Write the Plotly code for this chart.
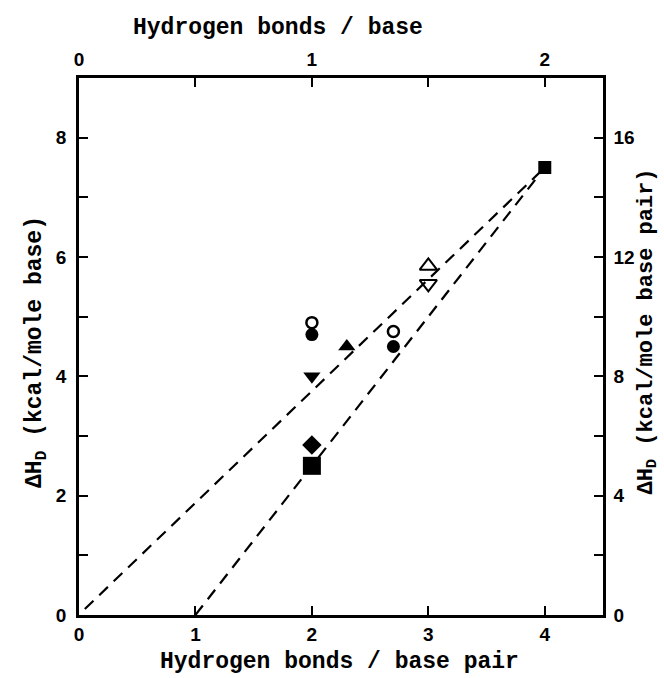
import plotly.graph_objects as go

# Data (x: hydrogen bonds / base pair, y: ΔH_D kcal/mole base)
open_circle_x = [2.0, 2.7]
open_circle_y = [4.9, 4.75]
filled_circle_x = [2.0, 2.7]
filled_circle_y = [4.7, 4.5]
filled_tri_up_x = [2.3]
filled_tri_up_y = [4.5]
filled_tri_down_x = [2.0]
filled_tri_down_y = [4.0]
open_tri_up_x = [3.0]
open_tri_up_y = [5.85]
open_tri_down_x = [3.0]
open_tri_down_y = [5.55]
diamond_x = [2.0]
diamond_y = [2.85]
big_square_x = [2.0]
big_square_y = [2.5]
small_square_x = [4.0]
small_square_y = [7.5]

line1_x = [0.05, 4.0]
line1_y = [0.1, 7.5]
line2_x = [1.0, 4.0]
line2_y = [0.0, 7.5]

bottom_ticks = [0, 1, 2, 3, 4]
left_ticks = [0, 2, 4, 6, 8]
top_ticks = [0, 1, 2]
right_ticks = [0, 4, 8, 12, 16]

mono = "Liberation Mono"
sans = "Liberation Sans"

fig = go.Figure()
dash = dict(color="black", width=2.2, dash="12px,8px")
fig.add_trace(go.Scatter(x=line1_x, y=line1_y, mode="lines", line=dash, showlegend=False))
fig.add_trace(go.Scatter(x=line2_x, y=line2_y, mode="lines", line=dash, showlegend=False))

def pts(x, y, symbol, size, lw=0):
    fig.add_trace(go.Scatter(x=x, y=y, mode="markers", showlegend=False,
                             marker=dict(symbol=symbol, size=size, color="black",
                                         line=dict(color="black", width=lw))))

pts(filled_circle_x, filled_circle_y, "circle", 13)
pts(open_circle_x, open_circle_y, "circle-open", 11, 2.5)
pts(filled_tri_up_x, filled_tri_up_y, "triangle-up", 15)
pts(filled_tri_down_x, filled_tri_down_y, "triangle-down", 15)
pts(open_tri_up_x, open_tri_up_y, "triangle-up-open", 15, 2)
pts(open_tri_down_x, open_tri_down_y, "triangle-down-open", 15, 2)
pts(diamond_x, diamond_y, "diamond", 15)
pts(big_square_x, big_square_y, "square", 18)
pts(small_square_x, small_square_y, "square", 13)

# invisible traces to activate secondary axes
fig.add_trace(go.Scatter(x=[0], y=[0], xaxis="x2", yaxis="y", mode="markers",
                         marker=dict(opacity=0), showlegend=False, hoverinfo="skip"))
fig.add_trace(go.Scatter(x=[0], y=[0], xaxis="x", yaxis="y2", mode="markers",
                         marker=dict(opacity=0), showlegend=False, hoverinfo="skip"))

tickfont = dict(family=sans, size=19, color="black", weight="bold")
minor_style = dict(ticks="inside", ticklen=9, tickwidth=2, tickcolor="black")
axcommon = dict(showgrid=False, zeroline=False, showline=True, linecolor="black",
                linewidth=2.5, ticks="inside", ticklen=9, tickwidth=2, tickcolor="black",
                tickfont=tickfont)

fig.update_layout(
    width=664, height=678,
    margin=dict(l=79, r=61, t=78, b=63),
    paper_bgcolor="white", plot_bgcolor="white",
    xaxis=dict(range=[0, 4.5], tickvals=bottom_ticks, ticktext=[str(v) for v in bottom_ticks],
               ticklabelstandoff=0, **axcommon),
    xaxis2=dict(range=[0, 2.25], overlaying="x", side="top", tickvals=top_ticks,
                ticktext=[str(v) for v in top_ticks], ticklabelstandoff=2,
                minor=dict(tickvals=[0.5, 1.5], **minor_style), **axcommon),
    yaxis=dict(range=[0, 9], tickvals=left_ticks, ticktext=[str(v) for v in left_ticks],
               ticklabelstandoff=6,
               minor=dict(tickvals=[1, 3, 5, 7], **minor_style), **axcommon),
    yaxis2=dict(range=[0, 18], overlaying="y", side="right", tickvals=right_ticks,
                ticktext=[str(v) for v in right_ticks], ticklabelstandoff=4,
                minor=dict(tickvals=[2, 6, 10, 14], **minor_style), **axcommon),
)

titlefont = dict(family=mono, size=23, color="black", weight="bold")
fig.add_annotation(text="Hydrogen bonds / base pair", xref="paper", yref="paper",
                   x=0.498, y=-0.087, showarrow=False, font=titlefont,
                   xanchor="center", yanchor="middle")
fig.add_annotation(text="Hydrogen bonds / base", xref="paper", yref="paper",
                   x=0.38, y=1.094, showarrow=False, font=titlefont,
                   xanchor="center", yanchor="middle")
fig.add_annotation(text="ΔH<sub>D</sub> (kcal/mole base)", xref="paper", yref="paper",
                   x=-0.08, y=0.49, showarrow=False, font=titlefont, textangle=-90,
                   xanchor="center", yanchor="middle")
fig.add_annotation(text="ΔH<sub>D</sub> (kcal/mole base pair)", xref="paper", yref="paper",
                   x=1.085, y=0.527, showarrow=False,
                   font=dict(family=mono, size=22, color="black", weight="bold"), textangle=-90,
                   xanchor="center", yanchor="middle")
fig.write_html("out.html")
